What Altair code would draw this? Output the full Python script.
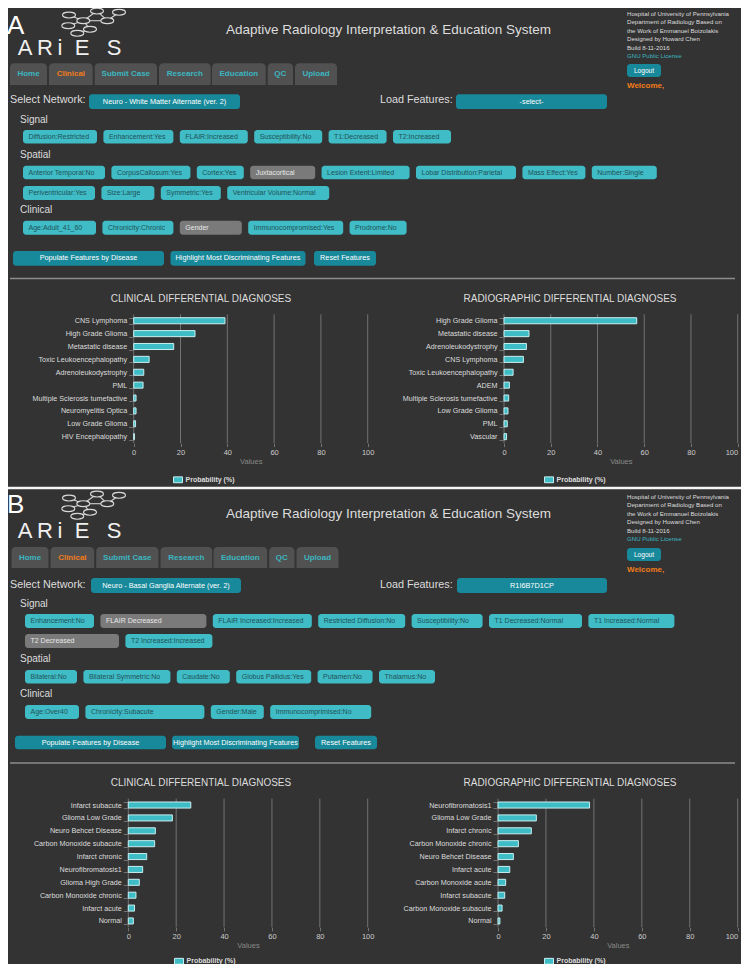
import altair as alt
import pandas as pd

# ============================ chart data ============================
a_clin_dx = ["CNS Lymphoma", "High Grade Glioma", "Metastatic disease",
             "Toxic Leukoencephalopathy", "Adrenoleukodystrophy", "PML",
             "Multiple Sclerosis tumefactive", "Neuromyelitis Optica",
             "Low Grade Glioma", "HIV Encephalopathy"]
a_clin_p = [39.0, 26.2, 17.1, 6.6, 4.3, 4.0, 1.0, 1.0, 0.8, 0.3]

a_rad_dx = ["High Grade Glioma", "Metastatic disease", "Adrenoleukodystrophy",
            "CNS Lymphoma", "Toxic Leukoencephalopathy", "ADEM",
            "Multiple Sclerosis tumefactive", "Low Grade Glioma", "PML", "Vascular"]
a_rad_p = [56.8, 10.7, 9.6, 8.3, 3.9, 2.3, 2.0, 1.7, 1.4, 1.1]

b_clin_dx = ["Infarct subacute", "Glioma Low Grade", "Neuro Behcet Disease",
             "Carbon Monoxide subacute", "Infarct chronic", "Neurofibromatosis1",
             "Glioma High Grade", "Carbon Monoxide chronic", "Infarct acute", "Normal"]
b_clin_p = [26.1, 18.4, 11.3, 11.0, 7.7, 6.0, 4.6, 3.2, 2.6, 2.1]

b_rad_dx = ["Neurofibromatosis1", "Glioma Low Grade", "Infarct chronic",
            "Carbon Monoxide chronic", "Neuro Behcet Disease", "Infarct acute",
            "Carbon Monoxide acute", "Infarct subacute", "Carbon Monoxide subacute", "Normal"]
b_rad_p = [38.2, 16.0, 13.9, 8.5, 6.4, 4.9, 3.2, 2.8, 1.7, 0.8]

x_ticks = [0, 20, 40, 60, 80, 100]
series_name = "Probability (%)"
x_title = "Values"
chart_titles = ["CLINICAL DIFFERENTIAL DIAGNOSES", "RADIOGRAPHIC DIFFERENTIAL DIAGNOSES"]

# ============================ page text =============================
app_title = "Adaptive Radiology Interpretation & Education System"
info_lines = ["Hospital of University of Pennsylvania",
              "Department of Radiology Based on",
              "the Work of Emmanuel Botzolakis",
              "Designed by Howard Chen",
              "Build 8-11-2016"]
license_text = "GNU Public License"
logout_text = "Logout"
welcome_text = "Welcome,"
logo_letters = ["A", "R", "i", "E", "S"]
tabs = ["Home", "Clinical", "Submit Case", "Research", "Education", "QC", "Upload"]
active_tab = "Clinical"
select_label = "Select Network:"
load_label = "Load Features:"
headings = ["Signal", "Spatial", "Clinical"]
actions = ["Populate Features by Disease", "Highlight Most Discriminating Features",
           "Reset Features"]

a_network = "Neuro - White Matter Alternate (ver. 2)"
a_load = "-select-"
a_signal = ["Diffusion:Restricted", "Enhancement:Yes", "FLAIR:Increased",
            "Susceptibility:No", "T1:Decreased", "T2:Increased"]
a_spatial_1 = ["Anterior Temporal:No", "CorpusCallosum:Yes", "Cortex:Yes", "Juxtacortical",
               "Lesion Extent:Limited", "Lobar Distribution:Parietal", "Mass Effect:Yes",
               "Number:Single"]
a_spatial_2 = ["Periventricular:Yes", "Size:Large", "Symmetric:Yes", "Ventricular Volume:Normal"]
a_clinical = ["Age:Adult_41_60", "Chronicity:Chronic", "Gender", "Immunocompromised:Yes",
              "Prodrome:No"]
a_unset = ["Juxtacortical", "Gender"]

b_network = "Neuro - Basal Ganglia Alternate (ver. 2)"
b_load = "R1I6B7D1CP"
b_signal_1 = ["Enhancement:No", "FLAIR Decreased", "FLAIR Increased:Increased",
              "Restricted Diffusion:No", "Susceptibility:No", "T1 Decreased:Normal",
              "T1 Increased:Normal"]
b_signal_2 = ["T2 Decreased", "T2 Increased:Increased"]
b_spatial = ["Bilateral:No", "Bilateral Symmetric:No", "Caudate:No", "Globus Pallidus:Yes",
             "Putamen:No", "Thalamus:No"]
b_clinical = ["Age:Over40", "Chronicity:Subacute", "Gender:Male", "Immunocomprimised:No"]
b_unset = ["FLAIR Decreased", "T2 Decreased"]

# ============================ style =================================
OFF = 8
W, H = 733, 956
FONT = "Liberation Sans"
BG = "#333333"
TXT = "#dddddd"
TEAL_L = "#3fbcc5"
TEAL_D = "#17899a"
GREY_B = "#7a7a7a"
TAB_BG = "#515151"
TAB_TXT = "#3cb6c0"
ORANGE = "#f27c1c"
GRID = "#727272"
BAR = "#3ebdc6"
BAR_EDGE = "#c9eef0"
FEAT_TXT = "#22525a"
LICENSE = "#3cb6c0"

S_LETTER = (26, "#ffffff", "normal", "left")
S_LOGO = (22, "#f0f0f0", "normal", "center")
S_TITLE = (13.5, TXT, "normal", "left")
S_INFO = (6.1, TXT, "normal", "left")
S_LIC = (6.1, LICENSE, "normal", "left")
S_WELCOME = (8, ORANGE, "bold", "left")
S_LOGOUT = (6.6, "#ffffff", "normal", "center")
S_TAB = (8, TAB_TXT, "bold", "center")
S_TAB_ACT = (8, ORANGE, "bold", "center")
S_LABEL = (10.8, TXT, "normal", "left")
S_HEAD = (10, TXT, "normal", "left")
S_SEL = (7.3, "#ffffff", "normal", "center")
S_FEAT = (7.0, FEAT_TXT, "normal", "left")
S_FEAT_UNSET = (7.0, "#e8e8e8", "normal", "left")
S_CTITLE = (10, TXT, "normal", "center")

# ============================ layout ================================
tab_x = [(10, 47), (49, 92.7), (94.7, 157), (159, 210.7), (212, 265.7), (267.7, 293), (295, 337)]
logo_x = [25, 45, 60, 82, 114]
logo_nodes = [(69, 15), (97, 11), (119, 12.3), (83.3, 20.7), (107.3, 20.7),
              (68.3, 25.7), (90, 29.3), (77.3, 33.3)]
logo_edges = [(0, 3), (1, 3), (1, 4), (2, 4), (3, 5), (3, 6), (6, 7), (3, 4)]
chart_title_x = [201, 570]
panel_gap_y = 488

LA = dict(letter=(7, 26.2), dy_logo=0, title_y=30, info_y=14, logout=(64, 77), welcome_y=86,
          tabs_y=(63.3, 85), tabs_dx=0, select_y=100, select_btn=(94.3, 109),
          net_x=(89, 240), load_x=(456, 607),
          heads_y=[119.5, 155, 210],
          rows_y=[[(130, 143.5)], [(165.7, 179.3), (186, 200)], [(220.7, 234.7)]],
          row_x0=23,
          widths=[[[74, 70, 68, 68, 58, 58]],
                  [[82, 79, 47, 65, 88, 100, 63, 65], [72, 53, 60, 102]],
                  [[73, 71, 62, 95, 57]]],
          act_y=(251, 265.7), act_x=[13, 170.5, 314], act_w=[151, 135, 62],
          sep_y=278.5, ctitle_y=299)
LB = dict(letter=(7, 505), dy_logo=483, title_y=514, info_y=497, logout=(548, 561),
          welcome_y=569.5, tabs_y=(547, 568), tabs_dx=1.5, select_y=585,
          select_btn=(578, 593), net_x=(91, 241), load_x=(457, 607),
          heads_y=[604, 659, 694],
          rows_y=[[(614, 628), (634, 648)], [(670, 683.5)], [(705, 719)]],
          row_x0=25,
          widths=[[[69, 106, 99, 87, 71, 93, 86], [94, 87]],
                  [[52, 87, 53, 75, 55, 56]],
                  [[54, 119, 53, 101]]],
          act_y=(735.7, 749.3), act_x=[15, 172, 315], act_w=[151, 127, 62],
          sep_y=763, ctitle_y=783.3)

CA = dict(letter="A", network=a_network, load=a_load,
          rows=[[a_signal], [a_spatial_1, a_spatial_2], [a_clinical]], unset=a_unset)
CB = dict(letter="B", network=b_network, load=b_load,
          rows=[[b_signal_1, b_signal_2], [b_spatial], [b_clinical]], unset=b_unset)

FEAT_GAP = 6.4

# chart panels: data, x-range (0..100), y-range (top..bottom), legend anchor
PANELS = [
    (a_clin_dx, a_clin_p, 133.7, 367.7, 314.3, 443.1, 173, 474.8),
    (a_rad_dx, a_rad_p, 504, 737.7, 314.3, 443.1, 544, 474.8),
    (b_clin_dx, b_clin_p, 128.3, 367.7, 798.6, 927.4, 174, 956.3),
    (b_rad_dx, b_rad_p, 498, 737.7, 798.6, 927.4, 544, 956.3),
]

# ============================ collectors ============================
texts, rects, rules = {}, {}, {}
nodes = []


def T(style, x, y, s):
    texts.setdefault(style, []).append({"x": x - OFF, "y": y - OFF, "t": s})


def R(style, x, x2, y, y2):
    rects.setdefault(style, []).append({"x": x - OFF, "x2": x2 - OFF, "y": y - OFF, "y2": y2 - OFF})


def L(style, x, y, x2, y2):
    rules.setdefault(style, []).append({"x": x - OFF, "x2": x2 - OFF, "y": y - OFF, "y2": y2 - OFF})


def build_page(lay, con):
    lx, ly = lay["letter"]
    T(S_LETTER, lx, ly, con["letter"])
    dy = lay["dy_logo"]
    for a, b in logo_edges:
        L(("#d0d0d0", 1.1), logo_nodes[a][0], logo_nodes[a][1] + dy,
          logo_nodes[b][0], logo_nodes[b][1] + dy)
    for (nx, ny) in logo_nodes:
        nodes.append({"x": nx - OFF, "y": ny + dy - OFF})
    for ch, cx in zip(logo_letters, logo_x):
        T(S_LOGO, cx, 48 + dy, ch)
    T(S_TITLE, 226, lay["title_y"], app_title)
    for i, line in enumerate(info_lines):
        T(S_INFO, 627, lay["info_y"] + 8.4 * i, line)
    T(S_LIC, 627, lay["info_y"] + 8.4 * len(info_lines), license_text)
    y0, y1 = lay["logout"]
    R((TEAL_D, "btn"), 627, 661, y0, y1)
    T(S_LOGOUT, 644, (y0 + y1) / 2, logout_text)
    T(S_WELCOME, 627, lay["welcome_y"], welcome_text)
    # tabs
    ty0, ty1 = lay["tabs_y"]
    for name, (tx0, tx1) in zip(tabs, tab_x):
        tx0 += lay["tabs_dx"]
        tx1 += lay["tabs_dx"]
        R((TAB_BG, "tab"), tx0, tx1, ty0, ty1)
        T(S_TAB_ACT if name == active_tab else S_TAB, (tx0 + tx1) / 2, (ty0 + ty1) / 2, name)
    # selectors
    sy = lay["select_y"]
    b0, b1 = lay["select_btn"]
    T(S_LABEL, 10, sy, select_label)
    nx0, nx1 = lay["net_x"]
    R((TEAL_D, "btn"), nx0, nx1, b0, b1)
    T(S_SEL, (nx0 + nx1) / 2, (b0 + b1) / 2, con["network"])
    T(S_LABEL, 380, sy, load_label)
    lx0, lx1 = lay["load_x"]
    R((TEAL_D, "btn"), lx0, lx1, b0, b1)
    T(S_SEL, (lx0 + lx1) / 2, (b0 + b1) / 2, con["load"])
    # feature groups
    for head, hy, rows, rys, wss in zip(headings, lay["heads_y"], con["rows"],
                                         lay["rows_y"], lay["widths"]):
        T(S_HEAD, 20, hy, head)
        for labels, (ry0, ry1), ws in zip(rows, rys, wss):
            x = lay["row_x0"]
            for lab, w in zip(labels, ws):
                unset = lab in con["unset"]
                R((GREY_B if unset else TEAL_L, "btn"), x, x + w, ry0, ry1)
                T(S_FEAT_UNSET if unset else S_FEAT, x + 5.5, (ry0 + ry1) / 2, lab)
                x += w + FEAT_GAP
    # action buttons
    ay0, ay1 = lay["act_y"]
    for lab, ax, aw in zip(actions, lay["act_x"], lay["act_w"]):
        R((TEAL_D, "btn"), ax, ax + aw, ay0, ay1)
        T(S_SEL, ax + aw / 2, (ay0 + ay1) / 2, lab)
    L(("#8c8c8c", 1.5), 10, lay["sep_y"], 735, lay["sep_y"])
    for t, cx in zip(chart_titles, chart_title_x):
        T(S_CTITLE, cx, lay["ctitle_y"], t)


build_page(LA, CA)
build_page(LB, CB)
# light gap between the two screenshots
L(("#f4f4f4", 2.5), 0, panel_gap_y, W + OFF, panel_gap_y)

# ============================ UI layers =============================
SX = alt.Scale(domain=[0, W], range=[0, W], nice=False, zero=False)
SY = alt.Scale(domain=[0, H], range=[0, H], nice=False, zero=False)


def px(f):
    return alt.X(f"{f}:Q", scale=SX, axis=None)


def py(f):
    return alt.Y(f"{f}:Q", scale=SY, axis=None)


ui_layers = []
for (fill, kind), rows in rects.items():
    if kind == "tab":
        mk = alt.Chart(pd.DataFrame(rows)).mark_rect(
            color=fill, cornerRadiusTopLeft=4, cornerRadiusTopRight=4)
    else:
        mk = alt.Chart(pd.DataFrame(rows)).mark_rect(color=fill, cornerRadius=3)
    ui_layers.append(mk.encode(x=px("x"), x2="x2:Q", y=py("y"), y2="y2:Q"))

for (col, sw), rows in rules.items():
    ui_layers.append(
        alt.Chart(pd.DataFrame(rows)).mark_rule(color=col, strokeWidth=sw).encode(
            x=px("x"), x2="x2:Q", y=py("y"), y2="y2:Q"))

ELLIPSE = "M-1,0A1,0.45,0,1,0,1,0A1,0.45,0,1,0,-1,0Z"
ui_layers.append(
    alt.Chart(pd.DataFrame(nodes)).mark_point(
        shape=ELLIPSE, size=169, fill=BG, fillOpacity=1, stroke="#d8d8d8",
        strokeWidth=1.1, opacity=1).encode(x=px("x"), y=py("y")))

for (size, color, weight, align), rows in texts.items():
    ui_layers.append(
        alt.Chart(pd.DataFrame(rows)).mark_text(
            font=FONT, fontSize=size, color=color, fontWeight=weight,
            align=align, baseline="middle").encode(
            x=px("x"), y=py("y"), text="t:N"))

ui = alt.layer(*ui_layers)

# ============================ bar panels ============================


def bar_panel(dx, p, x0, x1, ytop, ybot, legx, legy):
    df = pd.DataFrame({"Diagnosis": dx, "Probability": p, "Series": [series_name] * len(dx)})
    xs = alt.Scale(domain=[0, 100], range=[x0 - OFF, x1 - OFF], nice=False, zero=False)
    ys = alt.Scale(domain=dx, range=[ytop - OFF, ybot - OFF], paddingInner=0.53,
                   paddingOuter=0.265)
    if x1 - OFF + 6 > W:
        label_align = {"condition": {"test": "datum.value >= 100", "value": "right"},
                       "value": "center"}
    else:
        label_align = "center"
    xaxis = alt.Axis(orient="bottom", offset=(ybot - OFF) - H, values=x_ticks,
                     title=x_title, domain=False, grid=False, ticks=True,
                     tickSize=3.5, tickColor=GRID, labelFlush=False,
                     labelOverlap=False, labelFont=FONT, labelFontSize=7.5,
                     labelAlign=label_align,
                     labelColor="#cccccc", labelPadding=1.5, titleFont=FONT,
                     titleFontSize=7.5, titleFontWeight="normal",
                     titleColor="#8a8a8a", titlePadding=2)
    grid = alt.Chart(pd.DataFrame({"Probability": x_ticks})).mark_rule(
        color=GRID, strokeWidth=1).encode(
        x=alt.X("Probability:Q", scale=xs, axis=xaxis),
        y=alt.value(ytop - OFF), y2=alt.value(ybot - OFF))
    bars = alt.Chart(df).mark_bar(stroke=BAR_EDGE, strokeWidth=1).encode(
        x=alt.X("Probability:Q", scale=xs, axis=xaxis),
        y=alt.Y("Diagnosis:N", sort=dx, scale=ys,
                axis=alt.Axis(orient="left", offset=-(x0 - OFF), title=None, domain=False,
                              grid=False, tickBand="extent", tickSize=5, tickColor=GRID,
                              labelFont=FONT, labelFontSize=7.2, labelColor=TXT,
                              labelPadding=2, labelLimit=200)),
        color=alt.Color("Series:N", scale=alt.Scale(domain=[series_name], range=[BAR]),
                        legend=alt.Legend(orient="none", legendX=legx - OFF,
                                          legendY=legy - OFF, title=None,
                                          symbolType="M-1,-0.65L1,-0.65L1,0.65L-1,0.65Z",
                                          symbolSize=81, symbolStrokeColor=BAR_EDGE,
                                          symbolStrokeWidth=1, symbolOpacity=1,
                                          labelFont=FONT, labelFontSize=7,
                                          labelFontWeight="bold", labelColor=TXT,
                                          labelOffset=2.5, padding=0)))
    return alt.layer(grid, bars)


panels = [bar_panel(*args) for args in PANELS]

chart = alt.layer(ui, *panels).resolve_scale(
    x="independent", y="independent", color="independent"
).resolve_axis(x="independent", y="independent").resolve_legend(
    color="independent"
).properties(
    width=W, height=H, padding=0, background=BG,
    autosize=alt.AutoSizeParams(type="none"),
).configure_view(stroke=None)

chart.save("out.html", embed_options={"renderer": "svg", "actions": False})
